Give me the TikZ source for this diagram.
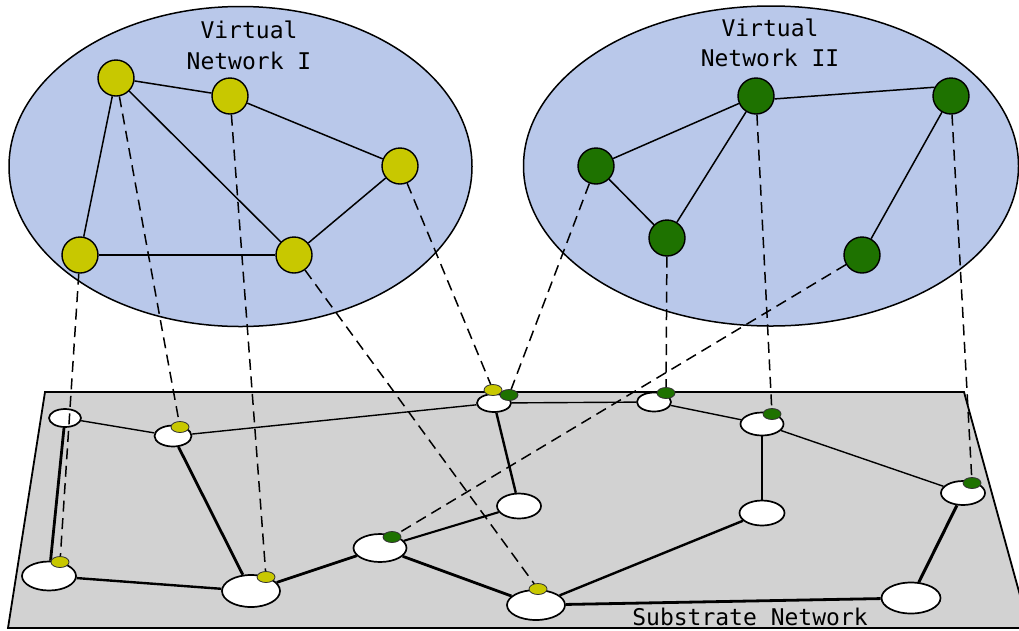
\documentclass[tikz,border=0pt]{standalone}
\usepackage{fontspec}
\newfontfamily\monolabel{DejaVu Sans Mono}
\usetikzlibrary{shapes.geometric}

\definecolor{vnblue}{RGB}{185,200,234}
\definecolor{planegray}{RGB}{210,210,210}
\definecolor{vnyellow}{RGB}{200,200,0}
\definecolor{vngreen}{RGB}{30,114,0}

\tikzset{
  netlabel/.style={font=\monolabel\fontsize{23}{31}\selectfont, inner sep=0pt, anchor=base},
  vnode/.style={circle, draw=black, line width=1.4pt, minimum size=36pt, inner sep=0pt},
  ynode/.style={vnode, fill=vnyellow},
  gnode/.style={vnode, fill=vngreen},
  vlink/.style={line width=1.5pt},
  snode/.style={ellipse, draw=black, fill=white, line width=1.7pt, inner sep=0pt},
  thinlink/.style={line width=1.4pt},
  thicklink/.style={line width=2.8pt},
  slot/.style={ellipse, draw=black!80, line width=0.8pt, inner sep=0pt,
               minimum width=18pt, minimum height=11pt},
  yslot/.style={slot, fill=vnyellow},
  gslot/.style={slot, fill=vngreen},
  maplink/.style={line width=1.5pt, dash pattern=on 11pt off 6.5pt},
}

\begin{document}
\begin{tikzpicture}[x=1pt, y=-1pt]
\useasboundingbox (0,0) rectangle (1019,630);

% virtual network regions
\draw[fill=vnblue, line width=1.5pt] (240.5,166.5) ellipse [x radius=231.5pt, y radius=160pt];
\draw[fill=vnblue, line width=1.5pt] (771,166) ellipse [x radius=247.5pt, y radius=160pt];

\node[netlabel] (t1a) at (249,38) {Virtual};
\node[netlabel] (t1b) at (249,69) {Network I};
\node[netlabel] (t2a) at (770,36) {Virtual};
\node[netlabel] (t2b) at (770,66) {Network II};

% substrate plane
\draw[fill=planegray, line width=1.8pt] (45,392) -- (964,392) -- (1029,628) -- (8,628) -- cycle;
\node[netlabel] (tsub) at (750,625) {Substrate Network};

% substrate nodes
\node[snode, minimum width=32pt, minimum height=18pt] (s1) at (65,418) {};
\node[snode, minimum width=37pt, minimum height=21pt] (s2) at (173,436) {};
\node[snode, minimum width=54pt, minimum height=29pt] (s3) at (49,576) {};
\node[snode, minimum width=58pt, minimum height=32pt] (s4) at (251,591) {};
\node[snode, minimum width=53pt, minimum height=28pt] (s5) at (380,548) {};
\node[snode, minimum width=34pt, minimum height=18pt] (s6) at (494,403) {};
\node[snode, minimum width=44pt, minimum height=25pt] (s7) at (519,506) {};
\node[snode, minimum width=34pt, minimum height=19pt] (s8) at (654,402) {};
\node[snode, minimum width=43pt, minimum height=23pt] (s9) at (762,424) {};
\node[snode, minimum width=45pt, minimum height=25pt] (s10) at (762,513) {};
\node[snode, minimum width=44pt, minimum height=24pt] (s11) at (963,493) {};
\node[snode, minimum width=58pt, minimum height=30pt] (s12) at (536,605) {};
\node[snode, minimum width=59pt, minimum height=31pt] (s13) at (911,598) {};

% substrate links
\draw[thinlink] (s1) -- (s2);
\draw[thinlink] (s2) -- (s6);
\draw[thinlink] (s6) -- (s8);
\draw[thinlink] (s8) -- (s9);
\draw[thinlink] (s9) -- (s11);
\draw[thicklink] (s1) -- (s3);
\draw[thicklink] (s2) -- (s4);
\draw[line width=2.4pt] (s3) -- (s4);
\draw[thicklink] (s4) -- (s5);
\draw[line width=2.1pt] (s5) -- (s7);
\draw[thicklink] (s5) -- (s12);
\draw[line width=2.4pt] (s6) -- (s7);
\draw[line width=2.4pt] (s9) -- (s10);
\draw[line width=2.4pt] (s10) -- (s12);
\draw[thicklink] (s12) -- (s13);
\draw[line width=3pt] (s11) -- (s13);

% virtual network I
\node[ynode] (a) at (116,78) {};
\node[ynode] (b) at (230,96) {};
\node[ynode] (c) at (400,166) {};
\node[ynode] (d) at (80,255) {};
\node[ynode] (e) at (294,255) {};
\draw[vlink] (a) -- (b);
\draw[vlink] (b) -- (c);
\draw[vlink] (a) -- (d);
\draw[vlink] (a) -- (e);
\draw[vlink] (d) -- (e);
\draw[vlink] (c) -- (e);

% virtual network II
\node[gnode] (f) at (596,166) {};
\node[gnode] (g) at (667,238) {};
\node[gnode] (h) at (756,96) {};
\node[gnode] (i) at (951,96) {};
\node[gnode] (j) at (862,255) {};
\draw[vlink] (f) -- (h);
\draw[vlink] (f) -- (g);
\draw[vlink] (g) -- (h);
\draw[vlink] (h.-9) -- (i.152);
\draw[vlink] (i) -- (j);

% embedding slots on substrate nodes
\coordinate (py1) at (60,562);
\coordinate (py2) at (180,427);
\coordinate (py3) at (266,577);
\coordinate (py4) at (538,589);
\coordinate (py5) at (493,390);
\coordinate (pg1) at (392,537);
\coordinate (pg2) at (509,395);
\coordinate (pg3) at (666,393);
\coordinate (pg4) at (772,414);
\coordinate (pg5) at (972,483);

% mapping of virtual nodes onto substrate nodes
\draw[maplink] (d) -- (py1);
\draw[maplink] (a) -- (py2);
\draw[maplink] (b) -- (py3);
\draw[maplink] (e) -- (py4);
\draw[maplink] (c) -- (py5);
\draw[maplink] (j) -- (pg1);
\draw[maplink] (f) -- (pg2);
\draw[maplink] (g) -- (pg3);
\draw[maplink] (h) -- (pg4);
\draw[maplink] (i) -- (pg5);

\node[yslot] (y1) at (py1) {};
\node[yslot] (y2) at (py2) {};
\node[yslot] (y3) at (py3) {};
\node[yslot] (y4) at (py4) {};
\node[yslot] (y5) at (py5) {};
\node[gslot] (g1) at (pg1) {};
\node[gslot] (g2) at (pg2) {};
\node[gslot] (g3) at (pg3) {};
\node[gslot] (g4) at (pg4) {};
\node[gslot] (g5) at (pg5) {};
\end{tikzpicture}
\end{document}
